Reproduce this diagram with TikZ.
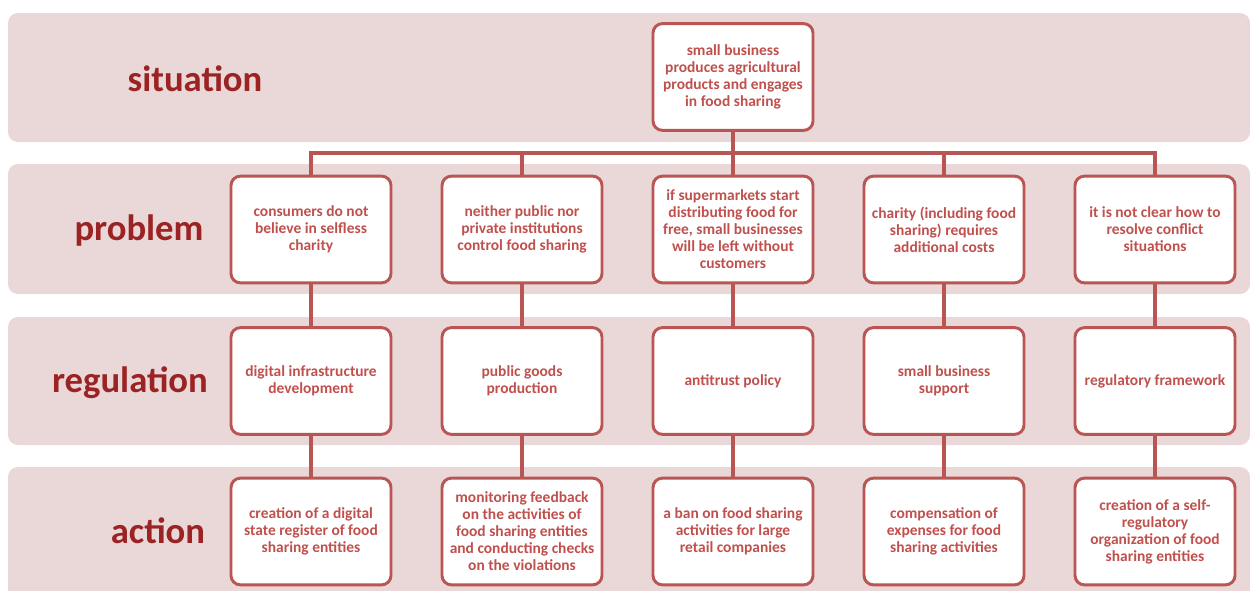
\documentclass[tikz,border=0pt]{standalone}
\usepackage{fontspec}
\setmainfont{Carlito}
\definecolor{bandpink}{RGB}{234,215,215}
\definecolor{boxred}{RGB}{185,85,82}
\definecolor{textred}{RGB}{192,80,77}
\definecolor{labelred}{RGB}{155,35,35}

\begin{document}
\begin{tikzpicture}[x=0.75pt,y=0.75pt,yscale=-1,xscale=1,
    band/.style={fill=bandpink, rounded corners=7.5pt},
    stage/.style={font=\fontsize{27.5}{32}\selectfont\bfseries, text=labelred, inner sep=0pt, anchor=base},
    item/.style={draw=boxred, line width=2.2pt, fill=white, rounded corners=7pt, minimum width=120pt, minimum height=80pt, align=center, text=textred, font=\fontsize{11.6}{12.75}\selectfont\bfseries, inner sep=2pt},
    link/.style={draw=boxred, line width=2.3pt}]
    \useasboundingbox (0,0) rectangle (1250,590);
    \clip (0,0) rectangle (1250,590);
    % bands
    \fill [band] (8,13) rectangle (1250,142);
    \fill [band] (8,164) rectangle (1250,294);
    \fill [band] (8,317) rectangle (1250,445);
    \fill [band] (8,467) rectangle (1250,605);
    \node [stage] (lsit) at (195,91) {situation};
    \node [stage] (lprob) at (139,240) {problem};
    \node [stage] (lreg) at (130,392) {regulation};
    \node [stage] (lact) at (158,543) {action};
    % situation
    \node [item] (top) at (733,77) {small business\\produces agricultural\\products and engages\\in food sharing};
    % problems
    \node [item] (p1) at (311,229.5) {consumers do not\\believe in selfless\\charity};
    \node [item] (p2) at (522,229.5) {neither public nor\\private institutions\\control food sharing};
    \node [item] (p3) at (733,229.5) {if supermarkets start\\distributing food for\\free, small businesses\\will be left without\\customers};
    \node [item] (p4) at (944,229.5) {charity (including food\\sharing) requires\\additional costs};
    \node [item] (p5) at (1155,229.5) {it is not clear how to\\resolve conflict\\situations};
    % regulation
    \node [item] (r1) at (311,381) {digital infrastructure\\development};
    \node [item] (r2) at (522,381) {public goods\\production};
    \node [item] (r3) at (733,381) {antitrust policy};
    \node [item] (r4) at (944,381) {small business\\support};
    \node [item] (r5) at (1155,381) {regulatory framework};
    % actions
    \node [item] (a1) at (311,531.5) {creation of a digital\\state register of food\\sharing entities};
    \node [item] (a2) at (522,531.5) {monitoring feedback\\on the activities of\\food sharing entities\\and conducting checks\\on the violations};
    \node [item] (a3) at (733,531.5) {a ban on food sharing\\activities for large\\retail companies};
    \node [item] (a4) at (944,531.5) {compensation of\\expenses for food\\sharing activities};
    \node [item] (a5) at (1155,531.5) {creation of a self-\\regulatory\\organization of food\\sharing entities};
    % connectors
    \coordinate (bus) at (733,153);
    \draw [link] (top.south) -- (bus);
    \draw [link] (bus) -| (p1.north);
    \draw [link] (bus) -| (p2.north);
    \draw [link] (bus) -- (p3.north);
    \draw [link] (bus) -| (p4.north);
    \draw [link] (bus) -| (p5.north);
    \draw [link] (p1.south) -- (r1.north);
    \draw [link] (p2.south) -- (r2.north);
    \draw [link] (p3.south) -- (r3.north);
    \draw [link] (p4.south) -- (r4.north);
    \draw [link] (p5.south) -- (r5.north);
    \draw [link] (r1.south) -- (a1.north);
    \draw [link] (r2.south) -- (a2.north);
    \draw [link] (r3.south) -- (a3.north);
    \draw [link] (r4.south) -- (a4.north);
    \draw [link] (r5.south) -- (a5.north);
\end{tikzpicture}
\end{document}
